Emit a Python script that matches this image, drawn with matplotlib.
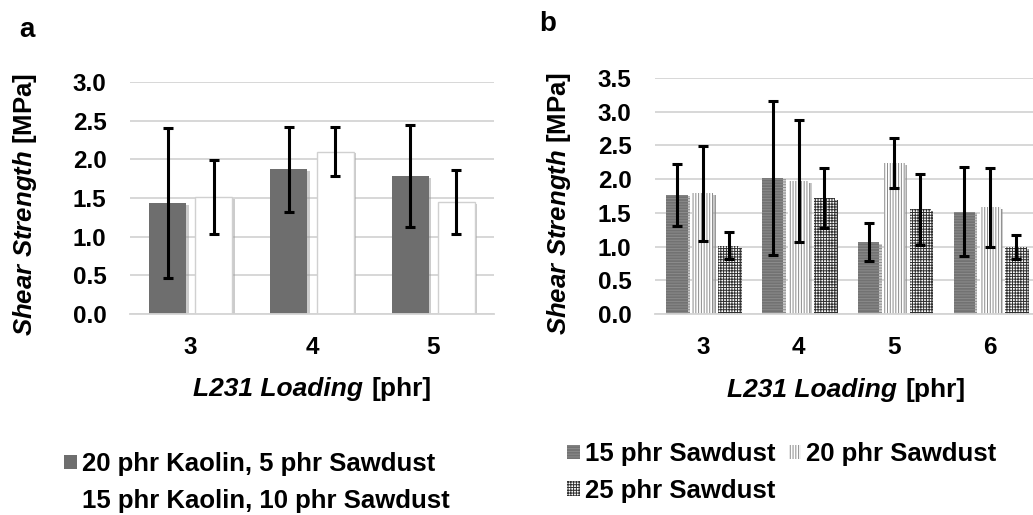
import numpy as np
import matplotlib
matplotlib.use("Agg")
import matplotlib.pyplot as plt
import matplotlib.patheffects as pe
import matplotlib.patches as mpatches
from matplotlib.offsetbox import TextArea, HPacker, AnchoredOffsetbox

plt.rcParams["font.family"] = ["Liberation Sans", "DejaVu Sans"]
plt.rcParams["font.weight"] = "bold"
plt.rcParams["mathtext.fontset"] = "custom"
plt.rcParams["mathtext.it"] = "Liberation Sans:italic:bold"
plt.rcParams["mathtext.rm"] = "Liberation Sans:bold"
plt.rcParams["hatch.linewidth"] = 0.7

# panel a data
cats_a = ["3", "4", "5"]
labels_a = ["20 phr Kaolin, 5 phr Sawdust", "15 phr Kaolin, 10 phr Sawdust"]
k20_mean = [1.43, 1.87, 1.78]
k20_err = [0.97, 0.55, 0.66]
k15_mean = [1.51, 2.10, 1.45]
k15_err = [0.48, 0.32, 0.41]

# panel b data
cats_b = ["3", "4", "5", "6"]
labels_b = ["15 phr Sawdust", "20 phr Sawdust", "25 phr Sawdust"]
s15_mean = [1.77, 2.02, 1.07, 1.52]
s15_err = [0.46, 1.14, 0.28, 0.66]
s20_mean = [1.79, 1.97, 2.24, 1.58]
s20_err = [0.70, 0.90, 0.37, 0.58]
s25_mean = [1.01, 1.72, 1.55, 0.99]
s25_err = [0.20, 0.44, 0.52, 0.18]

W, H = 1033, 515
fig = plt.figure(figsize=(W / 100, H / 100), dpi=100)
fig.patch.set_facecolor("white")

shadow = [pe.SimplePatchShadow(offset=(1.8, -1.2), shadow_rgbFace="#9a9a9a", alpha=0.5), pe.Normal()]
err_kw = dict(fmt="none", ecolor="black", elinewidth=2.2, capsize=3.5, capthick=2.2, zorder=5)

# bar styles: (face, hatch colour, hatch)
sty_b = [("#727272", "#8c8c8c", "------"), ("white", "#8a8a8a", "||||||"), ("white", "#303030", "++++++")]


def xlabel_box(ax, y):
    t1 = TextArea("L231 Loading", textprops=dict(fontsize=19, fontstyle="italic", fontweight="bold"))
    t2 = TextArea("[phr]", textprops=dict(fontsize=19, fontweight="bold"))
    box = HPacker(children=[t1, t2], align="baseline", pad=0, sep=6)
    ab = AnchoredOffsetbox(loc="center", child=box, pad=0, borderpad=0, frameon=False,
                           bbox_to_anchor=(0.5, y), bbox_transform=ax.transAxes)
    ax.add_artist(ab)


def style_axes(ax, ymax, ystep):
    ticks = np.arange(0, ymax + 0.01, ystep)
    ax.set_ylim(0, ymax)
    ax.set_yticks(ticks)
    ax.set_yticklabels([f"{v:.1f}" for v in ticks])
    ax.yaxis.grid(True, color="#d4d4d4", linewidth=1.3)
    ax.set_axisbelow(True)
    for s in ["top", "right", "left"]:
        ax.spines[s].set_visible(False)
    ax.spines["bottom"].set_color("#d4d4d4")
    ax.spines["bottom"].set_linewidth(1.3)
    ax.tick_params(length=0, labelsize=17.5)
    ax.tick_params(axis="y", pad=17)
    ax.tick_params(axis="x", pad=16)
    ax.set_ylabel(r"$\mathit{Shear\ Strength}$ [MPa]", fontsize=18.5, fontweight="bold")


# ---- panel a ----
ax1 = fig.add_axes([130 / W, 1 - 314 / H, 364 / W, 232 / H])
xa = np.arange(len(cats_a))
wa = 0.305
ax1.bar(xa - 0.19, k20_mean, wa, color="#6e6e6e", path_effects=shadow)
ax1.bar(xa + 0.19, k15_mean, wa, color="white", edgecolor="#d0d0d0", linewidth=1.0, path_effects=shadow)
ax1.errorbar(xa - 0.19, k20_mean, yerr=k20_err, **err_kw)
ax1.errorbar(xa + 0.19, k15_mean, yerr=k15_err, **err_kw)
ax1.set_xticks(xa)
ax1.set_xticklabels(cats_a)
ax1.set_xlim(-0.5, len(cats_a) - 0.5)
style_axes(ax1, 3.0, 0.5)
ax1.yaxis.set_label_coords(-0.25, 0.47)
xlabel_box(ax1, -0.325)

# ---- panel b ----
ax2 = fig.add_axes([655 / W, 1 - 314 / H, 383 / W, 236 / H])
xb = np.arange(len(cats_b))
wb = 0.22
series_b = [(s15_mean, s15_err), (s20_mean, s20_err), (s25_mean, s25_err)]
for i, (m, e) in enumerate(series_b):
    face, hc, hat = sty_b[i]
    off = (i - 1) * 0.27
    ax2.bar(xb + off, m, wb, color=face, edgecolor=hc, linewidth=0, hatch=hat, path_effects=shadow)
    ax2.errorbar(xb + off, m, yerr=e, **err_kw)
ax2.set_xticks(xb)
ax2.set_xticklabels(cats_b)
ax2.set_xlim(-0.5, len(cats_b) - 0.5)
style_axes(ax2, 3.5, 0.5)
ax2.yaxis.set_label_coords(-0.215, 0.47)
xlabel_box(ax2, -0.32)

# panel letters
fig.text(27 / W, 1 - 30 / H, "a", fontsize=20, ha="center", va="center")
fig.text(548 / W, 1 - 24 / H, "b", fontsize=20, ha="center", va="center")

# legends
leg_kw = dict(frameon=False, fontsize=18.5, handlelength=0.5, handleheight=0.5,
              handletextpad=0.2, borderpad=0, borderaxespad=0)
ha_ = [mpatches.Patch(facecolor="#6e6e6e", label=labels_a[0]),
       mpatches.Patch(facecolor="white", label=labels_a[1])]
fig.legend(handles=ha_, loc="upper left", bbox_to_anchor=(64 / W, 1 - 452 / H),
           labelspacing=0.5, **leg_kw)
hb_ = [mpatches.Patch(facecolor=sty_b[i][0], edgecolor=sty_b[i][1], linewidth=0,
                      hatch=sty_b[i][2], label=labels_b[i]) for i in range(3)]
fig.legend(handles=[hb_[0], hb_[2], hb_[1]], loc="upper left", bbox_to_anchor=(567 / W, 1 - 442 / H),
           ncol=2, labelspacing=0.5, columnspacing=0.5, **leg_kw)

fig.savefig("out.png", dpi=100, facecolor="white")
